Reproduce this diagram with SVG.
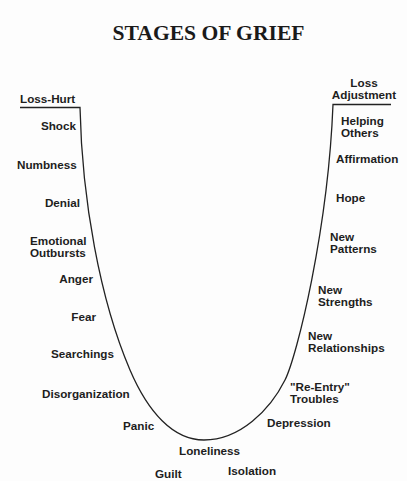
<svg xmlns="http://www.w3.org/2000/svg" width="407" height="481" viewBox="0 0 407 481">
<style>
.t{font-family:"Liberation Sans",Arial,sans-serif;font-weight:bold;font-size:11.7px;fill:#1e1e1e}
.r{text-anchor:end}
.m{text-anchor:middle}
.title{font-family:"Liberation Serif","Times New Roman",serif;font-weight:bold;font-size:21.6px;fill:#1a1a1a;text-anchor:middle}
.ln{fill:none;stroke:#222;stroke-width:1.3}
</style>
<rect width="407" height="481" fill="#fdfdfd"/>
<text class="title" x="208.5" y="40">STAGES OF GRIEF</text>
<g id="connectors">
<path class="ln" d="M20,107.5 H80 C82,200 100,300 130,370 C148,412 173,440 204,440 C240,440 270,410 285,380 C297,356 328,230 333,104.5 H391"/>
</g>
<g id="loss-hurt"><text class="t" x="20" y="103">Loss-Hurt</text></g>
<g id="shock"><text class="t r" x="76" y="130">Shock</text></g>
<g id="numbness"><text class="t" x="17" y="169">Numbness</text></g>
<g id="denial"><text class="t r" x="80" y="207">Denial</text></g>
<g id="emotional-outbursts"><text class="t" x="30" y="245">Emotional</text><text class="t" x="30" y="257">Outbursts</text></g>
<g id="anger"><text class="t r" x="93" y="283">Anger</text></g>
<g id="fear"><text class="t r" x="96" y="321">Fear</text></g>
<g id="searchings"><text class="t" x="51" y="358">Searchings</text></g>
<g id="disorganization"><text class="t" x="42" y="398">Disorganization</text></g>
<g id="panic"><text class="t" x="123" y="430">Panic</text></g>
<g id="loneliness"><text class="t" x="179" y="455">Loneliness</text></g>
<g id="guilt"><text class="t" x="155" y="478">Guilt</text></g>
<g id="isolation"><text class="t" x="228" y="475">Isolation</text></g>
<g id="depression"><text class="t" x="267" y="427">Depression</text></g>
<g id="re-entry"><text class="t" x="290" y="391">"Re-Entry"</text><text class="t" x="290" y="403">Troubles</text></g>
<g id="new-relationships"><text class="t" x="308" y="340">New</text><text class="t" x="308" y="352">Relationships</text></g>
<g id="new-strengths"><text class="t" x="318" y="294">New</text><text class="t" x="318" y="306">Strengths</text></g>
<g id="new-patterns"><text class="t" x="330" y="241">New</text><text class="t" x="330" y="253">Patterns</text></g>
<g id="hope"><text class="t" x="336" y="202">Hope</text></g>
<g id="affirmation"><text class="t" x="336" y="163">Affirmation</text></g>
<g id="helping-others"><text class="t" x="341" y="125">Helping</text><text class="t" x="341" y="137">Others</text></g>
<g id="loss-adjustment"><text class="t m" x="364" y="87">Loss</text><text class="t m" x="364" y="99">Adjustment</text></g>
</svg>
